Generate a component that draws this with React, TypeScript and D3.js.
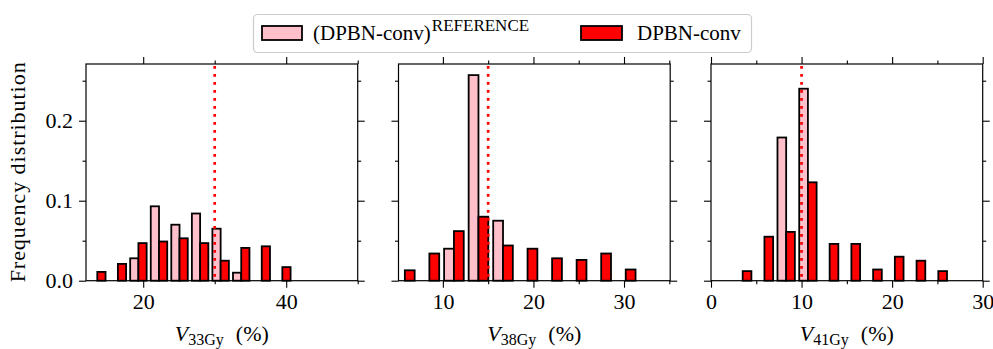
import React, { useEffect, useRef } from 'react';
import * as d3 from 'd3';

const W = 993;
const H = 349;

// bin centres (%) and bar heights
const binsV33 = [13.58, 16.46, 19.33, 22.21, 25.08, 27.96, 30.83, 33.71, 36.58, 39.46];
const refV33 = [0, 0, 0.028, 0.093, 0.070, 0.084, 0.065, 0.010, 0, 0];
const convV33 = [0.011, 0.021, 0.047, 0.049, 0.053, 0.047, 0.025, 0.041, 0.043, 0.017];

const binsV38 = [5.80, 8.51, 11.22, 13.93, 16.64, 19.35, 22.06, 24.77, 27.48, 30.19];
const refV38 = [0, 0, 0.040, 0.257, 0.075, 0, 0, 0, 0, 0];
const convV38 = [0.013, 0.034, 0.062, 0.080, 0.044, 0.040, 0.028, 0.026, 0.034, 0.014];

const binsV41 = [3.5, 5.9, 8.3, 10.7, 13.1, 15.5, 17.9, 20.3, 22.7, 25.1];
const refV41 = [0, 0, 0.179, 0.240, 0, 0, 0, 0, 0, 0];
const convV41 = [0.012, 0.055, 0.061, 0.123, 0.046, 0.046, 0.014, 0.030, 0.025, 0.012];

const thresholds = [30, 15, 10];
const doseLabels = ['33Gy', '38Gy', '41Gy'];
const xDomains = [[12, 50], [5.1, 35.1], [0, 30]];
const xMajorSteps = [20, 10, 10];
const xMinorSteps = [10, 5, 5];
const yMajorTicks = [0, 0.1, 0.2];
const yMinorTicks = [0.05, 0.15, 0.25];

const legendLabels = ['(DPBN-conv)', 'DPBN-conv'];
const refColor = '#ffc0cb';
const convColor = '#ff0000';
const FONT = '"Liberation Serif", "Times New Roman", serif';

const panels = [
  { bins: binsV33, ref: refV33, conv: convV33 },
  { bins: binsV38, ref: refV38, conv: convV38 },
  { bins: binsV41, ref: refV41, conv: convV41 },
];

const multiples = (d0: number, d1: number, step: number) =>
  d3.range(Math.ceil(d0 / step - 1e-9) * step, d1 + 1e-9, step).map(v => +v.toFixed(6));

const App = () => {
  const svgRef = useRef<SVGSVGElement>(null);

  useEffect(() => {
    const svg = d3.select(svgRef.current);
    svg.selectAll('*').remove();

    const lefts = [86, 398.5, 711];
    const pw = 271.7;
    const top = 64;
    const bottom = 280.7;

    const y = d3.scaleLinear().domain([0, 0.2709]).range([bottom, top]);

    panels.forEach((p, i) => {
      const x = d3.scaleLinear().domain(xDomains[i]).range([lefts[i], lefts[i] + pw]);
      const g = svg.append('g');
      const binW = p.bins[1] - p.bins[0];
      const barW = 0.4 * binW;

      // reference bars (left half) and DPBN-conv bars (right half)
      const drawBars = (vals: number[], color: string, offset: number) => {
        g.append('g')
          .selectAll('rect')
          .data(p.bins.map((b, k) => ({ b, v: vals[k] })).filter(d => d.v > 0))
          .join('rect')
          .attr('x', d => x(d.b + offset))
          .attr('y', d => y(d.v))
          .attr('width', d => x(d.b + offset + barW) - x(d.b + offset))
          .attr('height', d => y(0) - y(d.v))
          .attr('fill', color)
          .attr('stroke', '#000')
          .attr('stroke-width', 1.8);
      };
      drawBars(p.ref, refColor, -barW);
      drawBars(p.conv, convColor, 0);

      // threshold line
      g.append('line')
        .attr('x1', x(thresholds[i]))
        .attr('x2', x(thresholds[i]))
        .attr('y1', top + 2)
        .attr('y2', bottom)
        .attr('stroke', convColor)
        .attr('stroke-width', 2.7)
        .attr('stroke-dasharray', '2.7,5.3');

      // axes
      const [d0, d1] = xDomains[i];
      const xMaj = multiples(d0, d1, xMajorSteps[i]);
      const xMin = multiples(d0, d1, xMinorSteps[i]).filter(v => !xMaj.includes(v));

      const addAxis = (axis: any, tx: number, ty: number) => {
        const a = g.append('g').attr('transform', `translate(${tx},${ty})`).call(axis);
        a.select('.domain').remove();
        a.selectAll('line').attr('stroke', '#000').attr('stroke-width', 1.1);
        a.selectAll('text')
          .attr('fill', '#000')
          .style('font-family', FONT)
          .style('font-size', '22px');
        return a;
      };

      addAxis(d3.axisBottom(x).tickValues(xMaj).tickSize(7).tickPadding(6).tickFormat(d3.format('d')), 0, bottom);
      addAxis(d3.axisBottom(x).tickValues(xMin).tickSize(3.5).tickFormat(() => ''), 0, bottom);
      addAxis(d3.axisTop(x).tickValues(xMaj).tickSize(7).tickFormat(() => ''), 0, top);
      addAxis(d3.axisTop(x).tickValues(xMin).tickSize(3.5).tickFormat(() => ''), 0, top);

      addAxis(
        d3.axisLeft(y).tickValues(yMajorTicks).tickSize(7).tickPadding(6)
          .tickFormat(i === 0 ? (d3.format('.1f') as any) : () => ''),
        lefts[i], 0,
      );
      addAxis(d3.axisLeft(y).tickValues(yMinorTicks).tickSize(3.5).tickFormat(() => ''), lefts[i], 0);
      addAxis(d3.axisRight(y).tickValues(yMajorTicks).tickSize(7).tickFormat(() => ''), lefts[i] + pw, 0);
      addAxis(d3.axisRight(y).tickValues(yMinorTicks).tickSize(3.5).tickFormat(() => ''), lefts[i] + pw, 0);

      // frame
      g.append('rect')
        .attr('x', lefts[i])
        .attr('y', top)
        .attr('width', pw)
        .attr('height', bottom - top)
        .attr('fill', 'none')
        .attr('stroke', '#000')
        .attr('stroke-width', 1.2);

      // x label
      const lab = g.append('text')
        .attr('x', lefts[i] + pw / 2)
        .attr('y', 341)
        .attr('text-anchor', 'middle')
        .style('font-family', FONT)
        .style('font-size', '22px')
        .attr('fill', '#000');
      lab.append('tspan').style('font-style', 'italic').text('V');
      lab.append('tspan').attr('dy', 4).style('font-size', '16px').text(doseLabels[i]);
      lab.append('tspan').attr('dy', -4).attr('dx', 12).text('(%)');
    });

    // y label
    svg.append('text')
      .attr('transform', `translate(25,${(top + bottom) / 2}) rotate(-90)`)
      .attr('text-anchor', 'middle')
      .attr('textLength', 220)
      .attr('lengthAdjust', 'spacing')
      .style('font-family', FONT)
      .style('font-size', '22px')
      .attr('fill', '#000')
      .text('Frequency distribution');

    // legend
    const leg = svg.append('g');
    leg.append('rect')
      .attr('x', 253.5).attr('y', 14.5)
      .attr('width', 498).attr('height', 38)
      .attr('rx', 4)
      .attr('fill', '#fff')
      .attr('stroke', '#cccccc')
      .attr('stroke-width', 1.2);
    leg.append('rect')
      .attr('x', 262).attr('y', 26).attr('width', 40).attr('height', 14)
      .attr('fill', refColor).attr('stroke', '#000').attr('stroke-width', 1.8);
    leg.append('rect')
      .attr('x', 581).attr('y', 26).attr('width', 41).attr('height', 14)
      .attr('fill', convColor).attr('stroke', '#000').attr('stroke-width', 1.8);
    const t1 = leg.append('text')
      .attr('x', 313).attr('y', 40)
      .style('font-family', FONT).style('font-size', '21px').attr('fill', '#000');
    t1.append('tspan').text(legendLabels[0]);
    t1.append('tspan').attr('dy', -9).attr('dx', 1).style('font-size', '17px').text('REFERENCE');
    leg.append('text')
      .attr('x', 637).attr('y', 40)
      .style('font-family', FONT).style('font-size', '21px').attr('fill', '#000')
      .text(legendLabels[1]);
  }, []);

  return (
    <svg
      ref={svgRef}
      width={W}
      height={H}
      style={{ position: 'absolute', left: 0, top: 0, background: '#fff' }}
    />
  );
};

export default App;
